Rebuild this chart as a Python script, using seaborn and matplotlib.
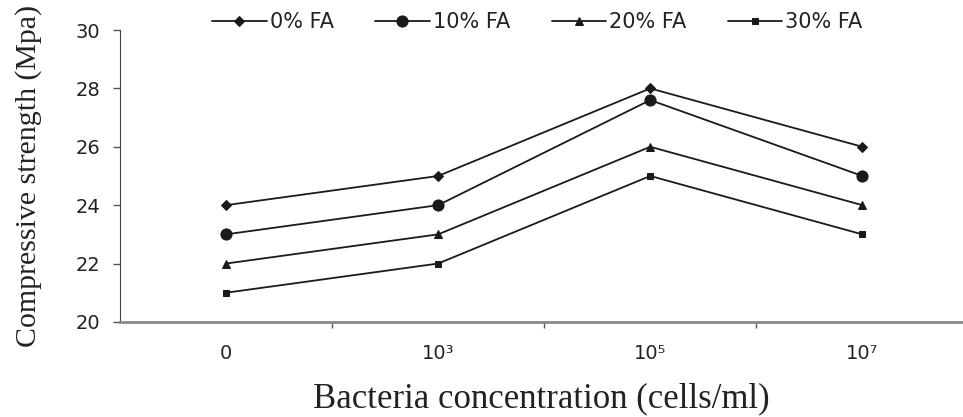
import pandas as pd
import numpy as np
import matplotlib.pyplot as plt
import seaborn as sns

# Data
concentrations = ['0', '10³', '10⁵', '10⁷']
fa_0 = [24, 25, 28, 26]
fa_10 = [23, 24, 27.6, 25]
fa_20 = [22, 23, 26, 24]
fa_30 = [21, 22, 25, 23]
series_names = ['0% FA', '10% FA', '20% FA', '30% FA']

rows = []
for name, vals in zip(series_names, [fa_0, fa_10, fa_20, fa_30]):
    for i, v in enumerate(vals):
        rows.append({'pos': i, 'strength': v, 'mix': name})
df = pd.DataFrame(rows)

sns.set_style('ticks')
plt.rcParams['font.family'] = ['DejaVu Sans']

fig = plt.figure(figsize=(9.63, 4.17), dpi=100)
ax = fig.add_axes([0.1246, 0.228, 0.8744, 0.70])

sns.lineplot(data=df, x='pos', y='strength', hue='mix', style='mix',
             palette=['#1a1a1a'] * 4, markers=['D', 'o', '^', 's'], dashes=False,
             linewidth=1.3, markersize=6, markeredgecolor='#1a1a1a', ax=ax)

# marker sizes differ per series in the original
for line in ax.lines:
    m = line.get_marker()
    if m == 'o':
        line.set_markersize(8)
    elif m in ('D', 's'):
        line.set_markersize(5)

ax.set_xlim(-0.5, 3.47)
ax.set_ylim(20, 30)
ax.set_yticks(np.arange(20, 31, 2))
ax.set_xticks(range(len(concentrations)))
ax.set_xticklabels(concentrations)
ax.set_xticks([0.5, 1.5, 2.5], minor=True)
ax.tick_params(axis='x', which='major', length=0, pad=16, labelsize=14, labelcolor='#222222')
ax.tick_params(axis='x', which='minor', length=4, width=1, color='#555555')
ax.tick_params(axis='y', length=5, width=1, color='#555555', labelsize=14,
               pad=9, labelcolor='#222222')

for s in ['top', 'right']:
    ax.spines[s].set_visible(False)
ax.spines['left'].set_color('#444444')
ax.spines['bottom'].set_color('#888888')
ax.spines['bottom'].set_linewidth(2)

ax.set_xlabel('Bacteria concentration (cells/ml)', family=['Liberation Serif'],
              fontsize=25, labelpad=14, color='#222222')
ax.set_ylabel('Compressive strength (Mpa)', family=['Liberation Serif'],
              fontsize=21.5, labelpad=24, color='#222222')

handles, labels = ax.get_legend_handles_labels()
ax.get_legend().remove()
fig.legend(handles, labels, loc='center', bbox_to_anchor=(0.558, 0.947), ncol=4,
           frameon=False, fontsize=15, handlelength=2.6, handletextpad=0.15,
           columnspacing=2.0, labelcolor='#222222')

fig.savefig('out.png', dpi=100)
